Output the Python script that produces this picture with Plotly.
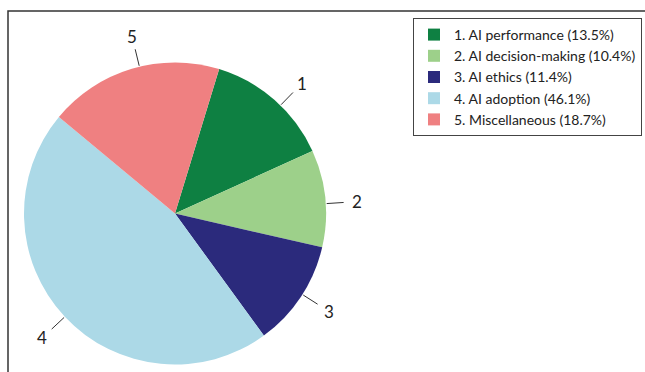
import math
import plotly.graph_objects as go

# Topic shares (percent) and their legend names
labels = ["1", "2", "3", "4", "5"]
names = ["1. AI performance", "2. AI decision-making", "3. AI ethics",
         "4. AI adoption", "5. Miscellaneous"]
shares = [13.5, 10.4, 11.4, 46.1, 18.7]

colors = ["#0e8042", "#9dd08a", "#2b2a7c", "#acd9e7", "#ef8081"]

W, H = 645, 372
cx, cy, R = 175, 213.5, 151      # pie centre / radius in px
start = 17                        # first slice starts this many degrees clockwise of 12 o'clock
font = "Lato"

fig = go.Figure()
fig.add_trace(go.Pie(
    labels=[f"{n} ({s}%)" for n, s in zip(names, shares)],
    values=shares,
    marker=dict(colors=colors, line=dict(width=0)),
    sort=False,
    direction="clockwise",
    rotation=start,
    textinfo="none",
    hoverinfo="label+value",
    domain=dict(x=[(cx - R) / W, (cx + R) / W],
                y=[(H - cy - R) / H, (H - cy + R) / H]),
))

# callout numbers with short leader lines at each slice's mid-angle
nudge = {"1": 3, "2": 2, "3": -1, "5": 3}   # small angular shifts (deg) for the callouts
total = sum(shares)
acc = 0.0
shapes, annotations = [], []
for lab, v in zip(labels, shares):
    mid = start + 360 * (acc + v / 2) / total + nudge.get(lab, 0)
    acc += v
    a = math.radians(mid)
    sx, sy = math.sin(a), -math.cos(a)

    def px(r):
        return (cx + r * sx) / W, 1 - (cy + r * sy) / H

    x0, y0 = px(R + 1)
    x1, y1 = px(R + 18)
    shapes.append(dict(type="line", xref="paper", yref="paper",
                       x0=x0, y0=y0, x1=x1, y1=y1,
                       line=dict(color="#333333", width=1)))
    tx, ty = px(R + 31)
    annotations.append(dict(x=tx, y=ty, xref="paper", yref="paper", text=lab,
                            showarrow=False, xanchor="center", yanchor="middle",
                            font=dict(family=font, size=17, color="#222222")))

# outer frame of the figure panel
shapes.append(dict(type="rect", xref="paper", yref="paper",
                   x0=8 / W, x1=1.05, y0=-0.05, y1=1 - 11 / H,
                   line=dict(color="#333333", width=1.5)))

fig.update_layout(
    width=W, height=H,
    margin=dict(l=0, r=0, t=0, b=0),
    paper_bgcolor="white",
    shapes=shapes,
    annotations=annotations,
    legend=dict(x=413 / W, y=1 - 18 / H, xanchor="left", yanchor="top",
                bordercolor="#444444", borderwidth=1,
                font=dict(family=font, size=14, color="#222222"),
                tracegroupgap=0),
    showlegend=True,
)

fig.write_html("out.html")
